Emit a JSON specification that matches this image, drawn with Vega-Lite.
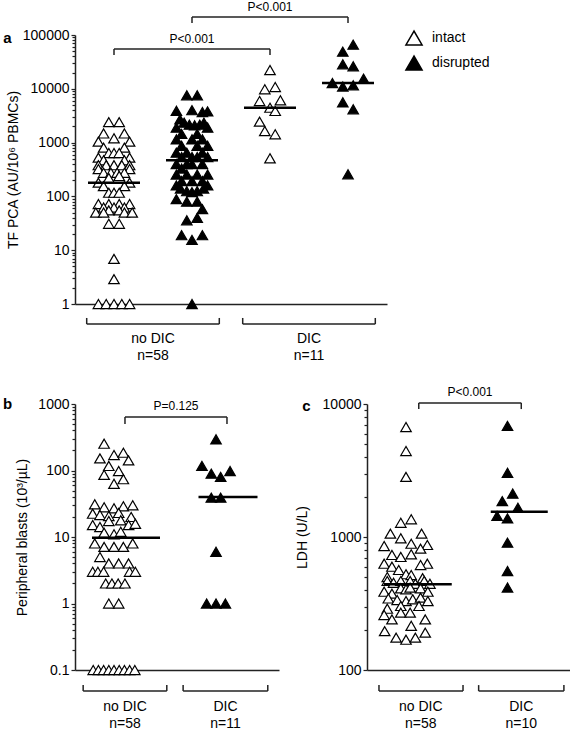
{
"$schema":"https://vega.github.io/schema/vega-lite/v6.json",
"padding":{"left":3,"top":0,"right":0,"bottom":0},
"config":{"font":"Liberation Sans","view":{"stroke":null},"axis":{"domainColor":"#222","domainWidth":1.5,"tickColor":"#222","tickWidth":1.2,"labelColor":"black","titleColor":"black","labelFontSize":14,"titleFontSize":14,"titleFontWeight":"normal","grid":false,"labelPadding":2},"text":{"font":"Liberation Sans"}},
"datasets":{
"a_pts":[
{"g":"1","st":"intact","v":2400,"s":-1},{"g":"1","st":"intact","v":2400,"s":1},{"g":"1","st":"intact","v":1480,"s":-2},{"g":"1","st":"intact","v":1480,"s":2},{"g":"1","st":"intact","v":1200,"s":0},{"g":"1","st":"intact","v":1040,"s":-3},{"g":"1","st":"intact","v":1040,"s":3},{"g":"1","st":"intact","v":805,"s":-2},{"g":"1","st":"intact","v":805,"s":2},{"g":"1","st":"intact","v":640,"s":-1},{"g":"1","st":"intact","v":640,"s":0},{"g":"1","st":"intact","v":640,"s":1},{"g":"1","st":"intact","v":525,"s":-3},{"g":"1","st":"intact","v":525,"s":3},{"g":"1","st":"intact","v":470,"s":-2},{"g":"1","st":"intact","v":470,"s":2},{"g":"1","st":"intact","v":380,"s":-3},{"g":"1","st":"intact","v":380,"s":-1.5},{"g":"1","st":"intact","v":380,"s":0},{"g":"1","st":"intact","v":380,"s":1.5},{"g":"1","st":"intact","v":380,"s":3},{"g":"1","st":"intact","v":322,"s":-3},{"g":"1","st":"intact","v":322,"s":3},{"g":"1","st":"intact","v":275,"s":-2},{"g":"1","st":"intact","v":275,"s":-0.6},{"g":"1","st":"intact","v":275,"s":0.6},{"g":"1","st":"intact","v":275,"s":2},{"g":"1","st":"intact","v":240,"s":1},{"g":"1","st":"intact","v":220,"s":-1},{"g":"1","st":"intact","v":180,"s":-3},{"g":"1","st":"intact","v":180,"s":3},{"g":"1","st":"intact","v":155,"s":-2},{"g":"1","st":"intact","v":155,"s":2},{"g":"1","st":"intact","v":117,"s":-1},{"g":"1","st":"intact","v":117,"s":0},{"g":"1","st":"intact","v":117,"s":1},{"g":"1","st":"intact","v":72,"s":-3},{"g":"1","st":"intact","v":72,"s":-1},{"g":"1","st":"intact","v":72,"s":1},{"g":"1","st":"intact","v":72,"s":3},{"g":"1","st":"intact","v":62,"s":-2},{"g":"1","st":"intact","v":62,"s":0},{"g":"1","st":"intact","v":62,"s":2},{"g":"1","st":"intact","v":55,"s":-1},{"g":"1","st":"intact","v":55,"s":1},{"g":"1","st":"intact","v":50,"s":-3.5},{"g":"1","st":"intact","v":50,"s":-2},{"g":"1","st":"intact","v":50,"s":2},{"g":"1","st":"intact","v":50,"s":3.5},{"g":"1","st":"intact","v":31,"s":-1},{"g":"1","st":"intact","v":31,"s":1},{"g":"1","st":"intact","v":6.9,"s":0},{"g":"1","st":"intact","v":2.9,"s":0},{"g":"1","st":"intact","v":1,"s":-3},{"g":"1","st":"intact","v":1,"s":-1.5},{"g":"1","st":"intact","v":1,"s":0},{"g":"1","st":"intact","v":1,"s":1.5},{"g":"1","st":"intact","v":1,"s":3},
{"g":"2","st":"disrupted","v":7570,"s":-1},{"g":"2","st":"disrupted","v":7570,"s":1},{"g":"2","st":"disrupted","v":3900,"s":-3},{"g":"2","st":"disrupted","v":4000,"s":0},{"g":"2","st":"disrupted","v":3700,"s":2},{"g":"2","st":"disrupted","v":3800,"s":3},{"g":"2","st":"disrupted","v":2700,"s":-2.3},{"g":"2","st":"disrupted","v":2350,"s":-1.5},{"g":"2","st":"disrupted","v":2150,"s":-0.5},{"g":"2","st":"disrupted","v":2100,"s":0.5},{"g":"2","st":"disrupted","v":2150,"s":1.5},{"g":"2","st":"disrupted","v":2350,"s":2.3},{"g":"2","st":"disrupted","v":1900,"s":-3},{"g":"2","st":"disrupted","v":1900,"s":3},{"g":"2","st":"disrupted","v":1450,"s":-2},{"g":"2","st":"disrupted","v":1450,"s":1},{"g":"2","st":"disrupted","v":1150,"s":-3},{"g":"2","st":"disrupted","v":1150,"s":0},{"g":"2","st":"disrupted","v":1150,"s":2},{"g":"2","st":"disrupted","v":870,"s":-2},{"g":"2","st":"disrupted","v":870,"s":1},{"g":"2","st":"disrupted","v":870,"s":3},{"g":"2","st":"disrupted","v":650,"s":-3},{"g":"2","st":"disrupted","v":650,"s":-1},{"g":"2","st":"disrupted","v":650,"s":2},{"g":"2","st":"disrupted","v":540,"s":-2},{"g":"2","st":"disrupted","v":540,"s":0},{"g":"2","st":"disrupted","v":540,"s":1},{"g":"2","st":"disrupted","v":540,"s":3},{"g":"2","st":"disrupted","v":400,"s":-3},{"g":"2","st":"disrupted","v":400,"s":-1},{"g":"2","st":"disrupted","v":400,"s":0},{"g":"2","st":"disrupted","v":400,"s":2},{"g":"2","st":"disrupted","v":330,"s":-2},{"g":"2","st":"disrupted","v":255,"s":-3},{"g":"2","st":"disrupted","v":255,"s":-1},{"g":"2","st":"disrupted","v":255,"s":1},{"g":"2","st":"disrupted","v":255,"s":3},{"g":"2","st":"disrupted","v":193,"s":-2},{"g":"2","st":"disrupted","v":193,"s":0},{"g":"2","st":"disrupted","v":193,"s":2},{"g":"2","st":"disrupted","v":160,"s":-3},{"g":"2","st":"disrupted","v":160,"s":3},{"g":"2","st":"disrupted","v":140,"s":-2.2},{"g":"2","st":"disrupted","v":125,"s":-1},{"g":"2","st":"disrupted","v":120,"s":0},{"g":"2","st":"disrupted","v":125,"s":1},{"g":"2","st":"disrupted","v":140,"s":2.2},{"g":"2","st":"disrupted","v":89,"s":-3},{"g":"2","st":"disrupted","v":80,"s":-1},{"g":"2","st":"disrupted","v":80,"s":1},{"g":"2","st":"disrupted","v":58,"s":2},{"g":"2","st":"disrupted","v":36,"s":-1},{"g":"2","st":"disrupted","v":40,"s":1},{"g":"2","st":"disrupted","v":19,"s":-2},{"g":"2","st":"disrupted","v":19,"s":2},{"g":"2","st":"disrupted","v":15.5,"s":0},{"g":"2","st":"disrupted","v":1,"s":0},
{"g":"3","st":"intact","v":22300,"s":0},{"g":"3","st":"intact","v":9800,"s":-1},{"g":"3","st":"intact","v":10800,"s":1},{"g":"3","st":"intact","v":5930,"s":-2},{"g":"3","st":"intact","v":6100,"s":2},{"g":"3","st":"intact","v":4450,"s":0},{"g":"3","st":"intact","v":3870,"s":1},{"g":"3","st":"intact","v":2450,"s":-2},{"g":"3","st":"intact","v":1640,"s":-1},{"g":"3","st":"intact","v":1430,"s":1},{"g":"3","st":"intact","v":510,"s":0},
{"g":"4","st":"disrupted","v":49000,"s":-1},{"g":"4","st":"disrupted","v":66000,"s":1},{"g":"4","st":"disrupted","v":28500,"s":-1},{"g":"4","st":"disrupted","v":26200,"s":1},{"g":"4","st":"disrupted","v":12800,"s":-3},{"g":"4","st":"disrupted","v":11000,"s":-1},{"g":"4","st":"disrupted","v":11600,"s":1},{"g":"4","st":"disrupted","v":15400,"s":3},{"g":"4","st":"disrupted","v":5600,"s":-1},{"g":"4","st":"disrupted","v":4160,"s":1},{"g":"4","st":"disrupted","v":258,"s":0}
],
"a_med":[{"g":"1","m":180},{"g":"2","m":470},{"g":"3","m":4450},{"g":"4","m":12800}],
"a_ann":[
{"k":"r","x":0.5,"x2":2.5,"y":55000,"y2":55000},{"k":"r","x":0.5,"x2":0.5,"y":55000,"y2":42500},{"k":"r","x":2.5,"x2":2.5,"y":55000,"y2":42500},
{"k":"r","x":1.5,"x2":3.5,"y":216000,"y2":216000},{"k":"r","x":1.5,"x2":1.5,"y":216000,"y2":167000},{"k":"r","x":3.5,"x2":3.5,"y":216000,"y2":167000},
{"k":"r","x":0.15,"x2":1.85,"y":0.425,"y2":0.425},{"k":"r","x":0.15,"x2":0.15,"y":0.425,"y2":0.55},{"k":"r","x":1.85,"x2":1.85,"y":0.425,"y2":0.55},
{"k":"r","x":2.15,"x2":3.85,"y":0.425,"y2":0.425},{"k":"r","x":2.15,"x2":2.15,"y":0.425,"y2":0.55},{"k":"r","x":3.85,"x2":3.85,"y":0.425,"y2":0.55},
{"k":"p","x":1.5,"y":62500,"t":"P<0.001"},{"k":"p","x":2.5,"y":246000,"t":"P<0.001"},
{"k":"l","x":1,"y":0.224,"t":"no DIC"},{"k":"l","x":1,"y":0.108,"t":"n=58"},{"k":"l","x":3,"y":0.224,"t":"DIC"},{"k":"l","x":3,"y":0.108,"t":"n=11"},
{"k":"c","x":-0.865,"y":88000,"t":"a"}
],
"b_pts":[
{"g":"noDIC","st":"intact","v":253,"s":-1.9},{"g":"noDIC","st":"intact","v":152,"s":-2.7},{"g":"noDIC","st":"intact","v":171,"s":0},{"g":"noDIC","st":"intact","v":185,"s":1.8},{"g":"noDIC","st":"intact","v":142,"s":2.8},{"g":"noDIC","st":"intact","v":117,"s":-1},{"g":"noDIC","st":"intact","v":86,"s":-1.9},{"g":"noDIC","st":"intact","v":98,"s":0.9},{"g":"noDIC","st":"intact","v":74,"s":1.8},{"g":"noDIC","st":"intact","v":63,"s":0},
{"g":"noDIC","st":"intact","v":31,"s":-3.7},{"g":"noDIC","st":"intact","v":28,"s":-1.9},{"g":"noDIC","st":"intact","v":27,"s":0},{"g":"noDIC","st":"intact","v":29,"s":1.8},{"g":"noDIC","st":"intact","v":30,"s":3.6},
{"g":"noDIC","st":"intact","v":22.4,"s":-4.1},{"g":"noDIC","st":"intact","v":21.4,"s":-2.7},{"g":"noDIC","st":"intact","v":20.7,"s":-1},{"g":"noDIC","st":"intact","v":23,"s":0.9},{"g":"noDIC","st":"intact","v":20,"s":3.3},
{"g":"noDIC","st":"intact","v":15.1,"s":-4.1},{"g":"noDIC","st":"intact","v":14.1,"s":-2.7},{"g":"noDIC","st":"intact","v":17.4,"s":-1},{"g":"noDIC","st":"intact","v":17.8,"s":1.3},{"g":"noDIC","st":"intact","v":15.1,"s":2.8},{"g":"noDIC","st":"intact","v":15.8,"s":4.1},
{"g":"noDIC","st":"intact","v":11.6,"s":-1.9},{"g":"noDIC","st":"intact","v":11,"s":0},{"g":"noDIC","st":"intact","v":12,"s":1.3},
{"g":"noDIC","st":"intact","v":8,"s":-3.7},{"g":"noDIC","st":"intact","v":7.1,"s":-1.9},{"g":"noDIC","st":"intact","v":7.1,"s":0},{"g":"noDIC","st":"intact","v":7.1,"s":1.8},{"g":"noDIC","st":"intact","v":8,"s":3.6},
{"g":"noDIC","st":"intact","v":5,"s":-2.7},{"g":"noDIC","st":"intact","v":4,"s":-1},{"g":"noDIC","st":"intact","v":4,"s":0.9},{"g":"noDIC","st":"intact","v":4,"s":2.8},
{"g":"noDIC","st":"intact","v":3,"s":-4.1},{"g":"noDIC","st":"intact","v":3,"s":-3.1},{"g":"noDIC","st":"intact","v":3,"s":-2},{"g":"noDIC","st":"intact","v":3,"s":3},{"g":"noDIC","st":"intact","v":3,"s":4.1},
{"g":"noDIC","st":"intact","v":2,"s":-1.6},{"g":"noDIC","st":"intact","v":2,"s":-0.4},{"g":"noDIC","st":"intact","v":2,"s":0.8},{"g":"noDIC","st":"intact","v":2,"s":2.1},
{"g":"noDIC","st":"intact","v":1,"s":-1},{"g":"noDIC","st":"intact","v":1,"s":0.9},
{"g":"noDIC","st":"intact","v":0.1,"s":-4},{"g":"noDIC","st":"intact","v":0.1,"s":-3},{"g":"noDIC","st":"intact","v":0.1,"s":-2},{"g":"noDIC","st":"intact","v":0.1,"s":-1},{"g":"noDIC","st":"intact","v":0.1,"s":0},{"g":"noDIC","st":"intact","v":0.1,"s":1},{"g":"noDIC","st":"intact","v":0.1,"s":2},{"g":"noDIC","st":"intact","v":0.1,"s":3},{"g":"noDIC","st":"intact","v":0.1,"s":4},
{"g":"DIC","st":"disrupted","v":294,"s":0},{"g":"DIC","st":"disrupted","v":117,"s":-2.7},{"g":"DIC","st":"disrupted","v":89.5,"s":-0.9},{"g":"DIC","st":"disrupted","v":80,"s":0.9},{"g":"DIC","st":"disrupted","v":98,"s":2.7},{"g":"DIC","st":"disrupted","v":39,"s":-0.9},{"g":"DIC","st":"disrupted","v":39,"s":0.9},{"g":"DIC","st":"disrupted","v":6,"s":0},{"g":"DIC","st":"disrupted","v":1,"s":-1.8},{"g":"DIC","st":"disrupted","v":1,"s":0},{"g":"DIC","st":"disrupted","v":1,"s":1.8}
],
"b_med":[{"g":"noDIC","m":9.75},{"g":"DIC","m":40}],
"b_ann":[
{"k":"r","x":0.49,"x2":1.49,"y":638,"y2":638},{"k":"r","x":0.49,"x2":0.49,"y":638,"y2":500},{"k":"r","x":1.49,"x2":1.49,"y":638,"y2":500},
{"k":"r","x":0.08,"x2":0.9,"y":0.0483,"y2":0.0483},{"k":"r","x":0.08,"x2":0.08,"y":0.0483,"y2":0.0594},{"k":"r","x":0.9,"x2":0.9,"y":0.0483,"y2":0.0594},
{"k":"r","x":1.06,"x2":1.89,"y":0.0483,"y2":0.0483},{"k":"r","x":1.06,"x2":1.06,"y":0.0483,"y2":0.0594},{"k":"r","x":1.89,"x2":1.89,"y":0.0483,"y2":0.0594},
{"k":"p","x":0.99,"y":733,"t":"P=0.125"},
{"k":"l","x":0.49,"y":0.0278,"t":"no DIC"},{"k":"l","x":0.49,"y":0.0154,"t":"n=58"},{"k":"l","x":1.475,"y":0.0278,"t":"DIC"},{"k":"l","x":1.475,"y":0.0154,"t":"n=11"},
{"k":"c","x":-0.66,"y":1000,"t":"b"}
],
"c_pts":[
{"g":"noDIC","st":"intact","v":6710,"s":0},{"g":"noDIC","st":"intact","v":4430,"s":0},{"g":"noDIC","st":"intact","v":2830,"s":0},{"g":"noDIC","st":"intact","v":1280,"s":-1},{"g":"noDIC","st":"intact","v":1360,"s":1},{"g":"noDIC","st":"intact","v":1060,"s":-3},{"g":"noDIC","st":"intact","v":1060,"s":3},{"g":"noDIC","st":"intact","v":977,"s":-1},{"g":"noDIC","st":"intact","v":890,"s":1},{"g":"noDIC","st":"intact","v":855,"s":-4.2},{"g":"noDIC","st":"intact","v":871,"s":4.1},{"g":"noDIC","st":"intact","v":817,"s":2.8},{"g":"noDIC","st":"intact","v":733,"s":-2.7},{"g":"noDIC","st":"intact","v":708,"s":-1},{"g":"noDIC","st":"intact","v":741,"s":1},{"g":"noDIC","st":"intact","v":630,"s":-4.2},{"g":"noDIC","st":"intact","v":630,"s":4.1},{"g":"noDIC","st":"intact","v":598,"s":-2.7},{"g":"noDIC","st":"intact","v":616,"s":2.8},{"g":"noDIC","st":"intact","v":565,"s":-1.4},{"g":"noDIC","st":"intact","v":525,"s":0},{"g":"noDIC","st":"intact","v":518,"s":1},
{"g":"noDIC","st":"intact","v":500,"s":-3.6},{"g":"noDIC","st":"intact","v":490,"s":3.2},
{"g":"noDIC","st":"intact","v":467,"s":-3.6},{"g":"noDIC","st":"intact","v":453,"s":-2.4},{"g":"noDIC","st":"intact","v":467,"s":-1},{"g":"noDIC","st":"intact","v":467,"s":0.8},{"g":"noDIC","st":"intact","v":445,"s":1.8},{"g":"noDIC","st":"intact","v":467,"s":3.5},{"g":"noDIC","st":"intact","v":445,"s":4.6},
{"g":"noDIC","st":"intact","v":388,"s":-4.2},{"g":"noDIC","st":"intact","v":375,"s":-2.7},{"g":"noDIC","st":"intact","v":411,"s":-1},{"g":"noDIC","st":"intact","v":404,"s":0},{"g":"noDIC","st":"intact","v":416,"s":0.8},{"g":"noDIC","st":"intact","v":411,"s":2.8},{"g":"noDIC","st":"intact","v":388,"s":4.2},
{"g":"noDIC","st":"intact","v":345,"s":-3.4},{"g":"noDIC","st":"intact","v":336,"s":-1.7},{"g":"noDIC","st":"intact","v":330,"s":0},{"g":"noDIC","st":"intact","v":340,"s":1.3},{"g":"noDIC","st":"intact","v":350,"s":2.8},{"g":"noDIC","st":"intact","v":330,"s":4.2},{"g":"noDIC","st":"intact","v":303,"s":-1},{"g":"noDIC","st":"intact","v":303,"s":2.5},{"g":"noDIC","st":"intact","v":289,"s":-3.6},{"g":"noDIC","st":"intact","v":259,"s":-4.2},{"g":"noDIC","st":"intact","v":240,"s":-2.7},{"g":"noDIC","st":"intact","v":270,"s":-1},{"g":"noDIC","st":"intact","v":270,"s":0.8},{"g":"noDIC","st":"intact","v":240,"s":3.7},{"g":"noDIC","st":"intact","v":215,"s":1},
{"g":"noDIC","st":"intact","v":196,"s":-4.1},{"g":"noDIC","st":"intact","v":175,"s":-1.9},{"g":"noDIC","st":"intact","v":169,"s":0},{"g":"noDIC","st":"intact","v":175,"s":1.8},{"g":"noDIC","st":"intact","v":191,"s":3.7},
{"g":"DIC","st":"disrupted","v":6840,"s":0},{"g":"DIC","st":"disrupted","v":3040,"s":0},{"g":"DIC","st":"disrupted","v":2120,"s":1},{"g":"DIC","st":"disrupted","v":1860,"s":-1},{"g":"DIC","st":"disrupted","v":1660,"s":2},{"g":"DIC","st":"disrupted","v":1440,"s":-2},{"g":"DIC","st":"disrupted","v":1380,"s":0},{"g":"DIC","st":"disrupted","v":906,"s":0},{"g":"DIC","st":"disrupted","v":555,"s":0},{"g":"DIC","st":"disrupted","v":417,"s":0}
],
"c_med":[{"g":"noDIC","m":441},{"g":"DIC","m":1550}],
"c_ann":[
{"k":"r","x":0.51,"x2":1.52,"y":10190,"y2":10190},{"k":"r","x":0.51,"x2":0.51,"y":10190,"y2":9160},{"k":"r","x":1.52,"x2":1.52,"y":10190,"y2":9160},
{"k":"r","x":0.118,"x2":0.946,"y":69.5,"y2":69.5},{"k":"r","x":0.118,"x2":0.118,"y":69.5,"y2":77},{"k":"r","x":0.946,"x2":0.946,"y":69.5,"y2":77},
{"k":"r","x":1.1,"x2":1.94,"y":69.5,"y2":69.5},{"k":"r","x":1.1,"x2":1.1,"y":69.5,"y2":77},{"k":"r","x":1.94,"x2":1.94,"y":69.5,"y2":77},
{"k":"p","x":1.015,"y":10900,"t":"P<0.001"},
{"k":"l","x":0.53,"y":52.7,"t":"no DIC"},{"k":"l","x":0.53,"y":39.3,"t":"n=58"},{"k":"l","x":1.52,"y":52.7,"t":"DIC"},{"k":"l","x":1.52,"y":39.3,"t":"n=10"},
{"k":"c","x":-0.596,"y":9660,"t":"c"}
]
},
"vconcat":[
{
"width":312,"height":269,
"resolve":{"scale":{"x":"independent"},"axis":{"y":"independent"}},
"layer":[
{"data":{"name":"a_pts"},
 "mark":{"type":"point","shape":"triangle-up","filled":true,"size":110,"stroke":"black","strokeWidth":1.2,"opacity":1},
 "encoding":{
  "x":{"field":"g","type":"nominal","scale":{"domain":["1","2","3","4"],"paddingInner":0,"paddingOuter":0},"axis":{"labels":false,"ticks":false,"title":null}},
  "xOffset":{"field":"s","type":"quantitative","scale":{"domain":[-6,6]}},
  "y":{"field":"v","type":"quantitative","scale":{"type":"log","domain":[1,100000],"nice":false},"axis":{"values":[1,10,100,1000,10000,100000],"format":"d","tickSize":4,"title":"TF PCA (AU/10⁶ PBMCs)","titlePadding":2}},
  "fill":{"field":"st","type":"nominal","scale":{"domain":["intact","disrupted"],"range":["white","black"]},"legend":{"title":null,"orient":"none","legendX":330,"legendY":-6,"symbolType":"triangle-up","symbolSize":260,"symbolStrokeColor":"black","symbolStrokeWidth":1.5,"labelFontSize":14,"labelColor":"black","labelOffset":9,"rowPadding":5}}
 }},
{"data":{"name":"a_med"},
 "mark":{"type":"tick","size":52,"thickness":2.5,"color":"black","opacity":1},
 "encoding":{
  "x":{"field":"g","type":"nominal","scale":{"domain":["1","2","3","4"],"paddingInner":0,"paddingOuter":0},"axis":null},
  "y":{"field":"m","type":"quantitative","scale":{"type":"log","domain":[1,100000],"nice":false},"axis":{"orient":"left","values":[2,3,4,5,6,7,8,9,20,30,40,50,60,70,80,90,200,300,400,500,600,700,800,900,2000,3000,4000,5000,6000,7000,8000,9000,20000,30000,40000,50000,60000,70000,80000,90000],"labels":false,"domain":false,"tickSize":3,"title":null}}
 }},
{"data":{"name":"a_ann"},"transform":[{"filter":"datum.k=='r'"}],
 "mark":{"type":"rule","color":"#222","strokeWidth":1.5},
 "encoding":{
  "x":{"field":"x","type":"quantitative","scale":{"domain":[0,4],"nice":false,"zero":false},"axis":null},
  "x2":{"field":"x2"},
  "y":{"field":"y","type":"quantitative","scale":{"type":"log","domain":[1,100000],"nice":false},"axis":null},
  "y2":{"field":"y2"}
 }},
{"data":{"name":"a_ann"},"transform":[{"filter":"datum.k=='p'"}],
 "mark":{"type":"text","fontSize":12,"baseline":"bottom","color":"black"},
 "encoding":{
  "x":{"field":"x","type":"quantitative","scale":{"domain":[0,4],"nice":false,"zero":false},"axis":null},
  "y":{"field":"y","type":"quantitative","scale":{"type":"log","domain":[1,100000],"nice":false},"axis":null},
  "text":{"field":"t"}
 }},
{"data":{"name":"a_ann"},"transform":[{"filter":"datum.k=='l'"}],
 "mark":{"type":"text","fontSize":14,"baseline":"middle","color":"black"},
 "encoding":{
  "x":{"field":"x","type":"quantitative","scale":{"domain":[0,4],"nice":false,"zero":false},"axis":null},
  "y":{"field":"y","type":"quantitative","scale":{"type":"log","domain":[1,100000],"nice":false},"axis":null},
  "text":{"field":"t"}
 }},
{"data":{"name":"a_ann"},"transform":[{"filter":"datum.k=='c'"}],
 "mark":{"type":"text","fontSize":15,"fontWeight":"bold","baseline":"middle","color":"black"},
 "encoding":{
  "x":{"field":"x","type":"quantitative","scale":{"domain":[0,4],"nice":false,"zero":false},"axis":null},
  "y":{"field":"y","type":"quantitative","scale":{"type":"log","domain":[1,100000],"nice":false},"axis":null},
  "text":{"field":"t"}
 }}
]
},
{
"hconcat":[
{
"width":204,"height":266,
"resolve":{"scale":{"x":"independent"},"axis":{"y":"independent"}},
"layer":[
{"data":{"name":"b_pts"},
 "mark":{"type":"point","shape":"triangle-up","filled":true,"size":110,"stroke":"black","strokeWidth":1.2,"opacity":1},
 "encoding":{
  "x":{"field":"g","type":"nominal","scale":{"domain":["noDIC","DIC"],"paddingInner":0,"paddingOuter":0},"axis":{"labels":false,"ticks":false,"title":null}},
  "xOffset":{"field":"s","type":"quantitative","scale":{"domain":[-7.5,7.5]}},
  "y":{"field":"v","type":"quantitative","scale":{"type":"log","domain":[0.1,1000],"nice":false},"axis":{"values":[0.1,1,10,100,1000],"format":"~g","tickSize":4,"title":"Peripheral blasts (10³/µL)","titlePadding":8}},
  "fill":{"field":"st","type":"nominal","scale":{"domain":["intact","disrupted"],"range":["white","black"]},"legend":null}
 }},
{"data":{"name":"b_med"},
 "mark":{"type":"tick","thickness":2.5,"color":"black","opacity":1},
 "encoding":{
  "x":{"field":"g","type":"nominal","scale":{"domain":["noDIC","DIC"],"paddingInner":0,"paddingOuter":0},"axis":null},
  "y":{"field":"m","type":"quantitative","scale":{"type":"log","domain":[0.1,1000],"nice":false},"axis":{"orient":"left","values":[0.2,0.3,0.4,0.5,0.6,0.7,0.8,0.9,2,3,4,5,6,7,8,9,20,30,40,50,60,70,80,90,200,300,400,500,600,700,800,900],"labels":false,"domain":false,"tickSize":3,"title":null}},
  "size":{"condition":{"test":"datum.g=='DIC'","value":59},"value":68}
 }},
{"data":{"name":"b_ann"},"transform":[{"filter":"datum.k=='r'"}],
 "mark":{"type":"rule","color":"#222","strokeWidth":1.5},
 "encoding":{
  "x":{"field":"x","type":"quantitative","scale":{"domain":[0,2],"nice":false,"zero":false},"axis":null},
  "x2":{"field":"x2"},
  "y":{"field":"y","type":"quantitative","scale":{"type":"log","domain":[0.1,1000],"nice":false},"axis":null},
  "y2":{"field":"y2"}
 }},
{"data":{"name":"b_ann"},"transform":[{"filter":"datum.k=='p'"}],
 "mark":{"type":"text","fontSize":12,"baseline":"bottom","color":"black"},
 "encoding":{
  "x":{"field":"x","type":"quantitative","scale":{"domain":[0,2],"nice":false,"zero":false},"axis":null},
  "y":{"field":"y","type":"quantitative","scale":{"type":"log","domain":[0.1,1000],"nice":false},"axis":null},
  "text":{"field":"t"}
 }},
{"data":{"name":"b_ann"},"transform":[{"filter":"datum.k=='l'"}],
 "mark":{"type":"text","fontSize":14,"baseline":"middle","color":"black"},
 "encoding":{
  "x":{"field":"x","type":"quantitative","scale":{"domain":[0,2],"nice":false,"zero":false},"axis":null},
  "y":{"field":"y","type":"quantitative","scale":{"type":"log","domain":[0.1,1000],"nice":false},"axis":null},
  "text":{"field":"t"}
 }},
{"data":{"name":"b_ann"},"transform":[{"filter":"datum.k=='c'"}],
 "mark":{"type":"text","fontSize":15,"fontWeight":"bold","baseline":"middle","color":"black"},
 "encoding":{
  "x":{"field":"x","type":"quantitative","scale":{"domain":[0,2],"nice":false,"zero":false},"axis":null},
  "y":{"field":"y","type":"quantitative","scale":{"type":"log","domain":[0.1,1000],"nice":false},"axis":null},
  "text":{"field":"t"}
 }}
]
},
{
"width":203,"height":266,
"resolve":{"scale":{"x":"independent"},"axis":{"y":"independent"}},
"layer":[
{"data":{"name":"c_pts"},
 "mark":{"type":"point","shape":"triangle-up","filled":true,"size":110,"stroke":"black","strokeWidth":1.2,"opacity":1},
 "encoding":{
  "x":{"field":"g","type":"nominal","scale":{"domain":["noDIC","DIC"],"paddingInner":0,"paddingOuter":0},"axis":{"labels":false,"ticks":false,"title":null}},
  "xOffset":{"field":"s","type":"quantitative","scale":{"domain":[-7.5,7.5]}},
  "y":{"field":"v","type":"quantitative","scale":{"type":"log","domain":[100,10000],"nice":false},"axis":{"values":[100,1000,10000],"format":"d","tickSize":4,"title":"LDH (U/L)","titlePadding":13}},
  "fill":{"field":"st","type":"nominal","scale":{"domain":["intact","disrupted"],"range":["white","black"]},"legend":null}
 }},
{"data":{"name":"c_med"},
 "mark":{"type":"tick","thickness":2.5,"color":"black","opacity":1},
 "encoding":{
  "x":{"field":"g","type":"nominal","scale":{"domain":["noDIC","DIC"],"paddingInner":0,"paddingOuter":0},"axis":null},
  "y":{"field":"m","type":"quantitative","scale":{"type":"log","domain":[100,10000],"nice":false},"axis":{"orient":"left","values":[200,300,400,500,600,700,800,900,2000,3000,4000,5000,6000,7000,8000,9000],"labels":false,"domain":false,"tickSize":3,"title":null}},
  "size":{"condition":{"test":"datum.g=='DIC'","value":57},"value":68}
 }},
{"data":{"name":"c_ann"},"transform":[{"filter":"datum.k=='r'"}],
 "mark":{"type":"rule","color":"#222","strokeWidth":1.5},
 "encoding":{
  "x":{"field":"x","type":"quantitative","scale":{"domain":[0,2],"nice":false,"zero":false},"axis":null},
  "x2":{"field":"x2"},
  "y":{"field":"y","type":"quantitative","scale":{"type":"log","domain":[100,10000],"nice":false},"axis":null},
  "y2":{"field":"y2"}
 }},
{"data":{"name":"c_ann"},"transform":[{"filter":"datum.k=='p'"}],
 "mark":{"type":"text","fontSize":12,"baseline":"bottom","color":"black"},
 "encoding":{
  "x":{"field":"x","type":"quantitative","scale":{"domain":[0,2],"nice":false,"zero":false},"axis":null},
  "y":{"field":"y","type":"quantitative","scale":{"type":"log","domain":[100,10000],"nice":false},"axis":null},
  "text":{"field":"t"}
 }},
{"data":{"name":"c_ann"},"transform":[{"filter":"datum.k=='l'"}],
 "mark":{"type":"text","fontSize":14,"baseline":"middle","color":"black"},
 "encoding":{
  "x":{"field":"x","type":"quantitative","scale":{"domain":[0,2],"nice":false,"zero":false},"axis":null},
  "y":{"field":"y","type":"quantitative","scale":{"type":"log","domain":[100,10000],"nice":false},"axis":null},
  "text":{"field":"t"}
 }},
{"data":{"name":"c_ann"},"transform":[{"filter":"datum.k=='c'"}],
 "mark":{"type":"text","fontSize":15,"fontWeight":"bold","baseline":"middle","color":"black"},
 "encoding":{
  "x":{"field":"x","type":"quantitative","scale":{"domain":[0,2],"nice":false,"zero":false},"axis":null},
  "y":{"field":"y","type":"quantitative","scale":{"type":"log","domain":[100,10000],"nice":false},"axis":null},
  "text":{"field":"t"}
 }}
]
}
],
"spacing":88,"bounds":"flush",
"resolve":{"scale":{"fill":"independent","y":"independent","x":"independent"}}
}
],
"spacing":100,"bounds":"flush",
"resolve":{"scale":{"fill":"independent","y":"independent","x":"independent"}}
}
